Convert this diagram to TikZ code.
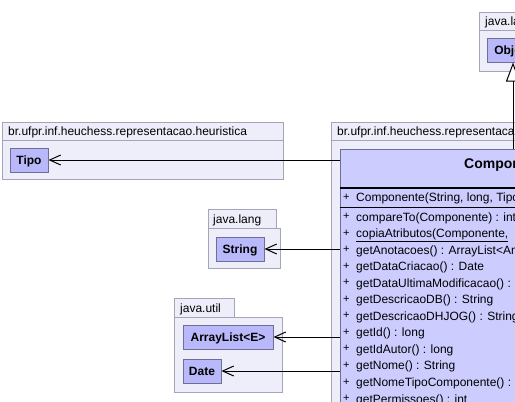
\documentclass[tikz,border=0pt]{standalone}
\usepackage{fontspec}
\setmainfont{Liberation Sans}
\usetikzlibrary{arrows.meta}
\definecolor{pkgfill}{RGB}{238,238,250}
\definecolor{pkgline}{RGB}{165,165,185}
\definecolor{clsfill}{RGB}{184,184,250}
\definecolor{clsline}{RGB}{110,110,150}
\definecolor{bigfill}{RGB}{204,204,255}
\begin{document}
\begin{tikzpicture}[x=1pt,y=-1pt,
  font=\fontsize{12}{14}\selectfont,
  pkg/.style={draw=pkgline, fill=pkgfill, line width=1pt},
  cls/.style={draw=clsline, fill=clsfill, line width=1pt,
    font=\fontsize{12}{14}\selectfont\bfseries, inner sep=0pt,
    minimum height=24pt, text height=9pt, text depth=0pt},
  pkglabel/.style={anchor=base west, inner sep=0pt},
  row/.style={anchor=base west, inner sep=0pt},
  plus/.style={anchor=base west, inner sep=0pt, font=\fontsize{11}{13}\selectfont},
  sepline/.style={draw=black, line width=1pt},
  dep/.style={-{Straight Barb[length=11pt,width=10pt]}, line width=1pt},
  gen/.style={-{Triangle[open,length=19pt,width=14pt,fill=white]}, line width=1pt}]
\useasboundingbox (0,0) rectangle (515,402);
\clip (0,0) rectangle (515,402);
% packages
\filldraw[pkg] (2.5,122.5) rectangle (283.5,179.5);
\draw[pkg] (2.5,140.5) -- (283.5,140.5);
\filldraw[pkg] (208.5,209.5) rectangle (276.5,228.5);
\filldraw[pkg] (208.5,228.5) rectangle (280.5,268.5);
\filldraw[pkg] (174.5,298.5) rectangle (234.5,317.5);
\filldraw[pkg] (174.5,317.5) rectangle (282.5,392.5);
\filldraw[pkg] (479.5,12.5) rectangle (620,30.5);
\filldraw[pkg] (479.5,30.5) rectangle (620,71.5);
\filldraw[pkg] (331.5,122.5) rectangle (700,140.5);
\filldraw[pkg] (331.5,140.5) rectangle (700,440);
% package labels
\node[pkglabel] (lh) at (8,135.5) {br.ufpr.inf.heuchess.representacao.heuristica};
\node[pkglabel] (lr) at (337,135.5) {br.ufpr.inf.heuchess.representacao};
\node[pkglabel] (ll) at (213,223.5) {java.lang};
\node[pkglabel] (lu) at (180,312.5) {java.util};
\node[pkglabel] (lj) at (485,25.5) {java.lang};
% small classes
\node[cls, minimum width=38pt] (tipo) at (29,160) {Tipo};
\node[cls, minimum width=48pt] (string) at (240,249) {String};
\node[cls, minimum width=90pt] (alist) at (228,337) {ArrayList<E>};
\node[cls, minimum width=38pt] (date) at (202,371) {Date};
\node[cls, minimum width=52pt] (obj) at (513,50) {Object};
% main class
\node[draw=clsline, fill=bigfill, line width=1pt, minimum width=336pt,
  minimum height=300pt, anchor=north west, inner sep=0pt] (comp) at (339.5,148.5) {};
\node[anchor=base west, inner sep=0pt, font=\fontsize{14}{16}\selectfont\bfseries]
  (ctitle) at (464,168.5) {Componente};
\draw[sepline, line width=2pt] (339.5,188) -- (675,188);
\draw[sepline] (339.5,207) -- (675,207);
\node[plus] (p0) at (343,200) {+};
\node[row] (m0) at (356,201.5) {Componente(String, long, TipoComponente)};
\foreach \t [count=\i] in {
  {compareTo(Componente) : int},
  {\underline{copiaAtributos(Componente,}},
  {getAnotacoes() : ArrayList<Anotacao>},
  {getDataCriacao() : Date},
  {getDataUltimaModificacao() : Date},
  {getDescricaoDB() : String},
  {getDescricaoDHJOG() : String},
  {getId() : long},
  {getIdAutor() : long},
  {getNome() : String},
  {getNomeTipoComponente() : String},
  {getPermissoes() : int}} {
  \pgfmathsetmacro{\yy}{221+16.55*(\i-1)}
  \node[plus] (p\i) at (343,\yy-1.5) {+};
  \node[row] (m\i) at (356,\yy) {\t};
}
% connectors
\draw[dep] (tipo.east -| comp.west) -- (tipo.east);
\draw[dep] (string.east -| comp.west) -- (string.east);
\draw[dep] (alist.east -| comp.west) -- (alist.east);
\draw[dep] (date.east -| comp.west) -- (date.east);
\draw[gen] (obj.south |- comp.north) -- (obj.south);
\end{tikzpicture}
\end{document}
